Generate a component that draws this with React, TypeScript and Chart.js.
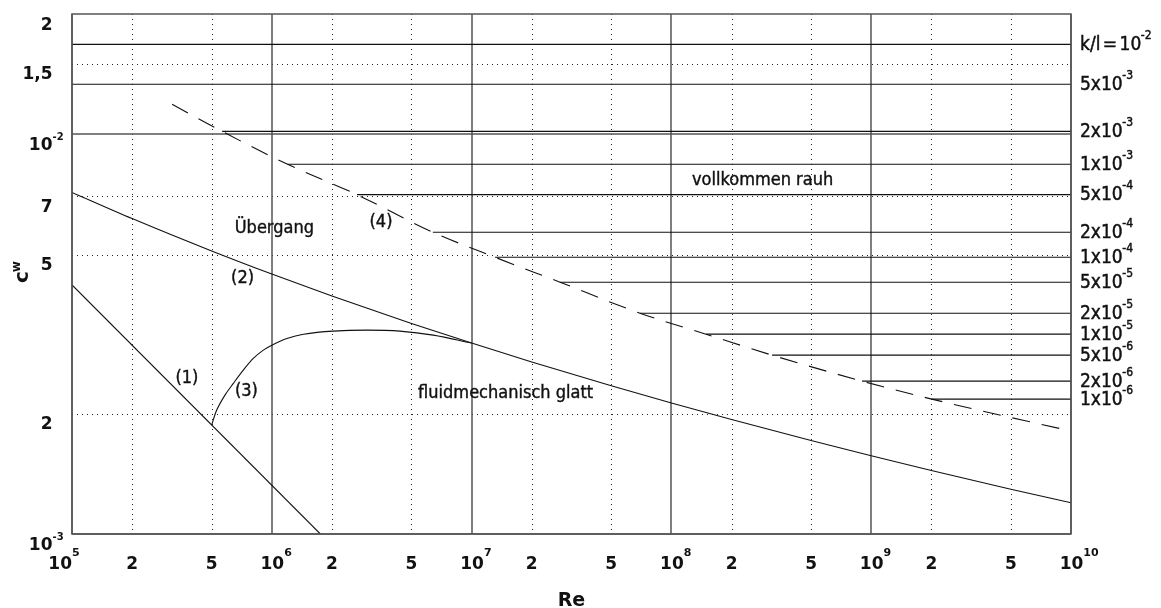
import React, { useEffect, useRef } from 'react';
import { Chart, registerables } from 'chart.js';

Chart.register(...registerables);

// Axis ranges
const reMin = 1e5;
const reMax = 1e10;
const cwMin = 1e-3;
const cwMax = 2e-2;

// Re axis: decades (solid) and intermediate values 2 and 5 (dotted)
const reDecades = [1e5, 1e6, 1e7, 1e8, 1e9, 1e10];
const reDecadeExp = ['5', '6', '7', '8', '9', '10'];
const reMinor = [2e5, 5e5, 2e6, 5e6, 2e7, 5e7, 2e8, 5e8, 2e9, 5e9];
const reMinorLabels = ['2', '5', '2', '5', '2', '5', '2', '5', '2', '5'];

// cw axis
const cwDecades = [1e-3, 1e-2];
const cwDecadeExp = ['-3', '-2'];
const cwMinor = [2e-3, 5e-3, 7e-3, 1.5e-2];
const cwMinorLabels = ['2', '5', '7', '1,5'];
const cwTop = [2e-2];
const cwTopLabels = ['2'];

// (1) laminar plate
const laminarRe = [1e5, 1.75e6];
const laminarCw = [0.0042, 0.001];

// (2) turbulent, hydraulically smooth
const smoothRe = [1e5, 2e5, 5e5, 1e6, 2e6, 5e6, 1e7, 2e7, 5e7, 1e8, 2e8, 5e8, 1e9, 2e9, 5e9, 1e10];
const smoothCw = [0.007155, 0.006154, 0.005106, 0.00447, 0.00394, 0.003364, 0.003004, 0.002695,
  0.00235, 0.002128, 0.001935, 0.001714, 0.00157, 0.001442, 0.001294, 0.001197];

// (3) laminar-turbulent transition
const transRe = [5.0e5, 5.3e5, 5.83e5, 6.42e5, 7.2e5, 8.08e5, 9.07e5, 1.0e6, 1.19e6, 1.44e6, 2.03e6, 2.99e6, 4.38e6, 6.43e6, 1e7];
const transCw = [0.001874, 0.002042, 0.002226, 0.002381, 0.00257, 0.00275, 0.002884, 0.002968,
  0.003085, 0.003162, 0.003218, 0.003236, 0.003218, 0.003144, 0.003004];

// (4) limit of the fully rough regime
const roughLimitRe = [3.17e5, 5.64e5, 1.2e6, 2.67e6, 6.4e6, 1.31e7, 2.77e7, 6.96e7, 1.49e8, 3.19e8, 9.0e8, 2.01e9, 1e10];
const roughLimitCw = [0.01189, 0.01017, 0.008414, 0.007063, 0.005689, 0.004925, 0.004266, 0.003568,
  0.003162, 0.002802, 0.002413, 0.002175, 0.001809];

// Fully rough plates: constant cw per relative roughness k/l
const roughBase = ['k/l = 10', '5x10', '2x10', '1x10', '5x10', '2x10', '1x10', '5x10', '2x10', '1x10', '5x10', '2x10', '1x10'];
const roughExp = ['-2', '-3', '-3', '-3', '-4', '-4', '-4', '-5', '-5', '-5', '-6', '-6', '-6'];
const roughCw = [0.01679, 0.01334, 0.01017, 0.008414, 0.007063, 0.005689, 0.004925, 0.004266,
  0.003568, 0.003162, 0.002802, 0.002413, 0.002175];
const roughStartRe = [1e5, 1e5, 5.64e5, 1.2e6, 2.67e6, 6.4e6, 1.31e7, 2.77e7, 6.96e7, 1.49e8, 3.19e8, 9.0e8, 2.01e9];

// Text annotations (anchor = centre of the baseline)
const noteText = ['Übergang', 'vollkommen rauh', 'fluidmechanisch glatt', '(1)', '(2)', '(3)', '(4)'];
const noteRe = [1.03e6, 2.86e8, 1.48e7, 3.76e5, 7.14e5, 7.46e5, 3.52e6];
const noteCw = [5.655e-3, 7.455e-3, 2.188e-3, 2.385e-3, 4.24e-3, 2.213e-3, 5.855e-3];

const SANS = "'DejaVu Sans'";
const COND = "'DejaVu Sans Condensed', 'DejaVu Sans'";
const INK = '#111';
const WIDTH = 1161;
const HEIGHT = 608;

const pts = (xs: number[], ys: number[]) => xs.map((x, i) => ({ x, y: ys[i] }));

// Filled text with a hairline outline for a slightly heavier stroke
function heavyText(ctx: CanvasRenderingContext2D, t: string, x: number, y: number, weight = 0.35) {
  ctx.fillText(t, x, y);
  if (weight > 0) {
    ctx.lineWidth = weight;
    ctx.strokeStyle = ctx.fillStyle as string;
    ctx.strokeText(t, x, y);
  }
}

function drawPower(
  ctx: CanvasRenderingContext2D, base: string, exp: string, x: number, y: number,
  align: 'left' | 'center' | 'right', baseFont: string, expFont: string, rise: number, gap = 0, weight = 0,
) {
  ctx.font = baseFont;
  const w = ctx.measureText(base).width;
  const x0 = align === 'left' ? x : align === 'center' ? x - w / 2 : x - w;
  ctx.textAlign = 'left';
  ctx.textBaseline = 'alphabetic';
  heavyText(ctx, base, x0, y, weight);
  if (exp) {
    ctx.font = expFont;
    heavyText(ctx, exp, x0 + w + gap, y - rise, weight);
  }
}

const diagramPlugin = {
  id: 'diagramFrame',
  beforeDatasetsDraw(chart: any) {
    const { ctx, chartArea: a, scales } = chart;
    const xs = scales.x;
    const ys = scales.y;
    ctx.save();
    // dotted grid
    ctx.strokeStyle = '#222';
    ctx.lineWidth = 1;
    ctx.setLineDash([1, 4]);
    reMinor.forEach((v) => {
      const px = Math.round(xs.getPixelForValue(v)) + 0.5;
      ctx.beginPath();
      ctx.moveTo(px, a.top);
      ctx.lineTo(px, a.bottom);
      ctx.stroke();
    });
    cwMinor.forEach((v) => {
      const py = Math.round(ys.getPixelForValue(v)) + 0.5;
      ctx.beginPath();
      ctx.moveTo(a.left, py);
      ctx.lineTo(a.right, py);
      ctx.stroke();
    });
    // solid decade grid
    ctx.setLineDash([]);
    ctx.strokeStyle = '#555';
    ctx.lineWidth = 1.5;
    reDecades.forEach((v) => {
      const px = Math.round(xs.getPixelForValue(v));
      ctx.beginPath();
      ctx.moveTo(px, a.top);
      ctx.lineTo(px, a.bottom);
      ctx.stroke();
    });
    cwDecades.forEach((v) => {
      const py = Math.round(ys.getPixelForValue(v));
      ctx.beginPath();
      ctx.moveTo(a.left, py);
      ctx.lineTo(a.right, py);
      ctx.stroke();
    });
    ctx.restore();
  },
  afterDatasetsDraw(chart: any) {
    const { ctx, chartArea: a } = chart;
    ctx.save();
    ctx.strokeStyle = '#555';
    ctx.lineWidth = 1.5;
    ctx.strokeRect(Math.round(a.left), Math.round(a.top), Math.round(a.right) - Math.round(a.left), Math.round(a.bottom) - Math.round(a.top));
    ctx.restore();
  },
  afterDraw(chart: any) {
    const { ctx, chartArea: a, scales } = chart;
    const xs = scales.x;
    const ys = scales.y;
    ctx.save();
    ctx.fillStyle = INK;
    const tickFont = `bold 17px ${SANS}`;
    const tickExpFont = `bold 11px ${SANS}`;

    // Re tick labels
    const xBase = a.bottom + 35;
    reDecades.forEach((v, i) => {
      const px = xs.getPixelForValue(v);
      drawPower(ctx, '10', reDecadeExp[i], i === 0 ? px : px + 0.5, xBase, i === 0 ? 'right' : 'center', tickFont, tickExpFont, 13);
    });
    ctx.font = tickFont;
    ctx.textAlign = 'center';
    reMinor.forEach((v, i) => {
      ctx.fillText(reMinorLabels[i], xs.getPixelForValue(v), xBase);
    });

    // cw tick labels (hang just below their grid line)
    const yRight = a.left - 19.5;
    const plainVals = [...cwMinor, ...cwTop];
    const plainLabels = [...cwMinorLabels, ...cwTopLabels];
    plainVals.forEach((v, i) => {
      ctx.font = tickFont;
      ctx.textAlign = 'right';
      ctx.fillText(plainLabels[i], yRight, ys.getPixelForValue(v) + 15.5);
    });
    cwDecades.forEach((v, i) => {
      drawPower(ctx, '10', cwDecadeExp[i], yRight, ys.getPixelForValue(v) + 16, 'right', tickFont, `bold 10px ${SANS}`, 10.5);
    });

    // roughness labels at the right edge
    const rx = a.right + 9;
    roughCw.forEach((v, i) => {
      ctx.save();
      if (i === 0) (ctx as any).wordSpacing = '-3px';
      drawPower(ctx, roughBase[i], roughExp[i], rx, ys.getPixelForValue(v) + 5.5, 'left', `19px ${COND}`, `12px ${COND}`, 11, -0.5, 0.45);
      ctx.restore();
    });

    // annotations
    ctx.fillStyle = INK;
    ctx.font = `18px ${COND}`;
    ctx.textAlign = 'center';
    ctx.textBaseline = 'alphabetic';
    noteText.forEach((t, i) => {
      heavyText(ctx, t, xs.getPixelForValue(noteRe[i]), ys.getPixelForValue(noteCw[i]), 0.4);
    });

    // axis titles
    ctx.font = `bold 19px ${SANS}`;
    ctx.textAlign = 'center';
    ctx.fillText('Re', (a.left + a.right) / 2, a.bottom + 72);

    ctx.save();
    ctx.translate(a.left - 43.7, (a.top + a.bottom) / 2 + 9);
    ctx.rotate(-Math.PI / 2);
    ctx.textAlign = 'left';
    ctx.font = `bold 20px ${SANS}`;
    const cw = ctx.measureText('c').width;
    ctx.fillText('c', 0, 0);
    ctx.font = `bold 12px ${SANS}`;
    ctx.fillText('w', cw - 1, -8);
    ctx.restore();

    ctx.restore();
  },
};

export default function App() {
  const ref = useRef<HTMLCanvasElement>(null);

  useEffect(() => {
    const thin = { borderColor: INK, borderWidth: 1.1, pointRadius: 0, fill: false };
    const datasets: any[] = [
      ...roughCw.map((cw, i) => ({
        ...thin,
        label: `${roughBase[i]}^${roughExp[i]}`,
        data: [{ x: roughStartRe[i], y: cw }, { x: reMax, y: cw }],
      })),
      { ...thin, label: '(1)', data: pts(laminarRe, laminarCw) },
      { ...thin, label: '(2)', data: pts(smoothRe, smoothCw), cubicInterpolationMode: 'monotone' },
      { ...thin, label: '(3)', data: pts(transRe, transCw), tension: 0.35 },
      {
        ...thin,
        label: '(4)',
        data: pts(roughLimitRe, roughLimitCw),
        cubicInterpolationMode: 'monotone',
        borderDash: [18, 12],
      },
    ];

    const chart = new Chart(ref.current as HTMLCanvasElement, {
      type: 'line',
      data: { datasets },
      options: {
        responsive: false,
        animation: false,
        devicePixelRatio: 1,
        events: [],
        parsing: false as any,
        layout: { padding: { left: 72, right: 90, top: 14, bottom: 74 } },
        plugins: { legend: { display: false }, tooltip: { enabled: false } },
        scales: {
          x: { type: 'logarithmic', min: reMin, max: reMax, display: false, bounds: 'data' },
          y: { type: 'logarithmic', min: cwMin, max: cwMax, display: false, bounds: 'data' },
        },
      },
      plugins: [diagramPlugin],
    });
    return () => chart.destroy();
  }, []);

  return (
    <canvas
      ref={ref}
      width={WIDTH}
      height={HEIGHT}
      style={{ display: 'block', position: 'fixed', left: 0, top: 0, background: '#fff' }}
    />
  );
}
